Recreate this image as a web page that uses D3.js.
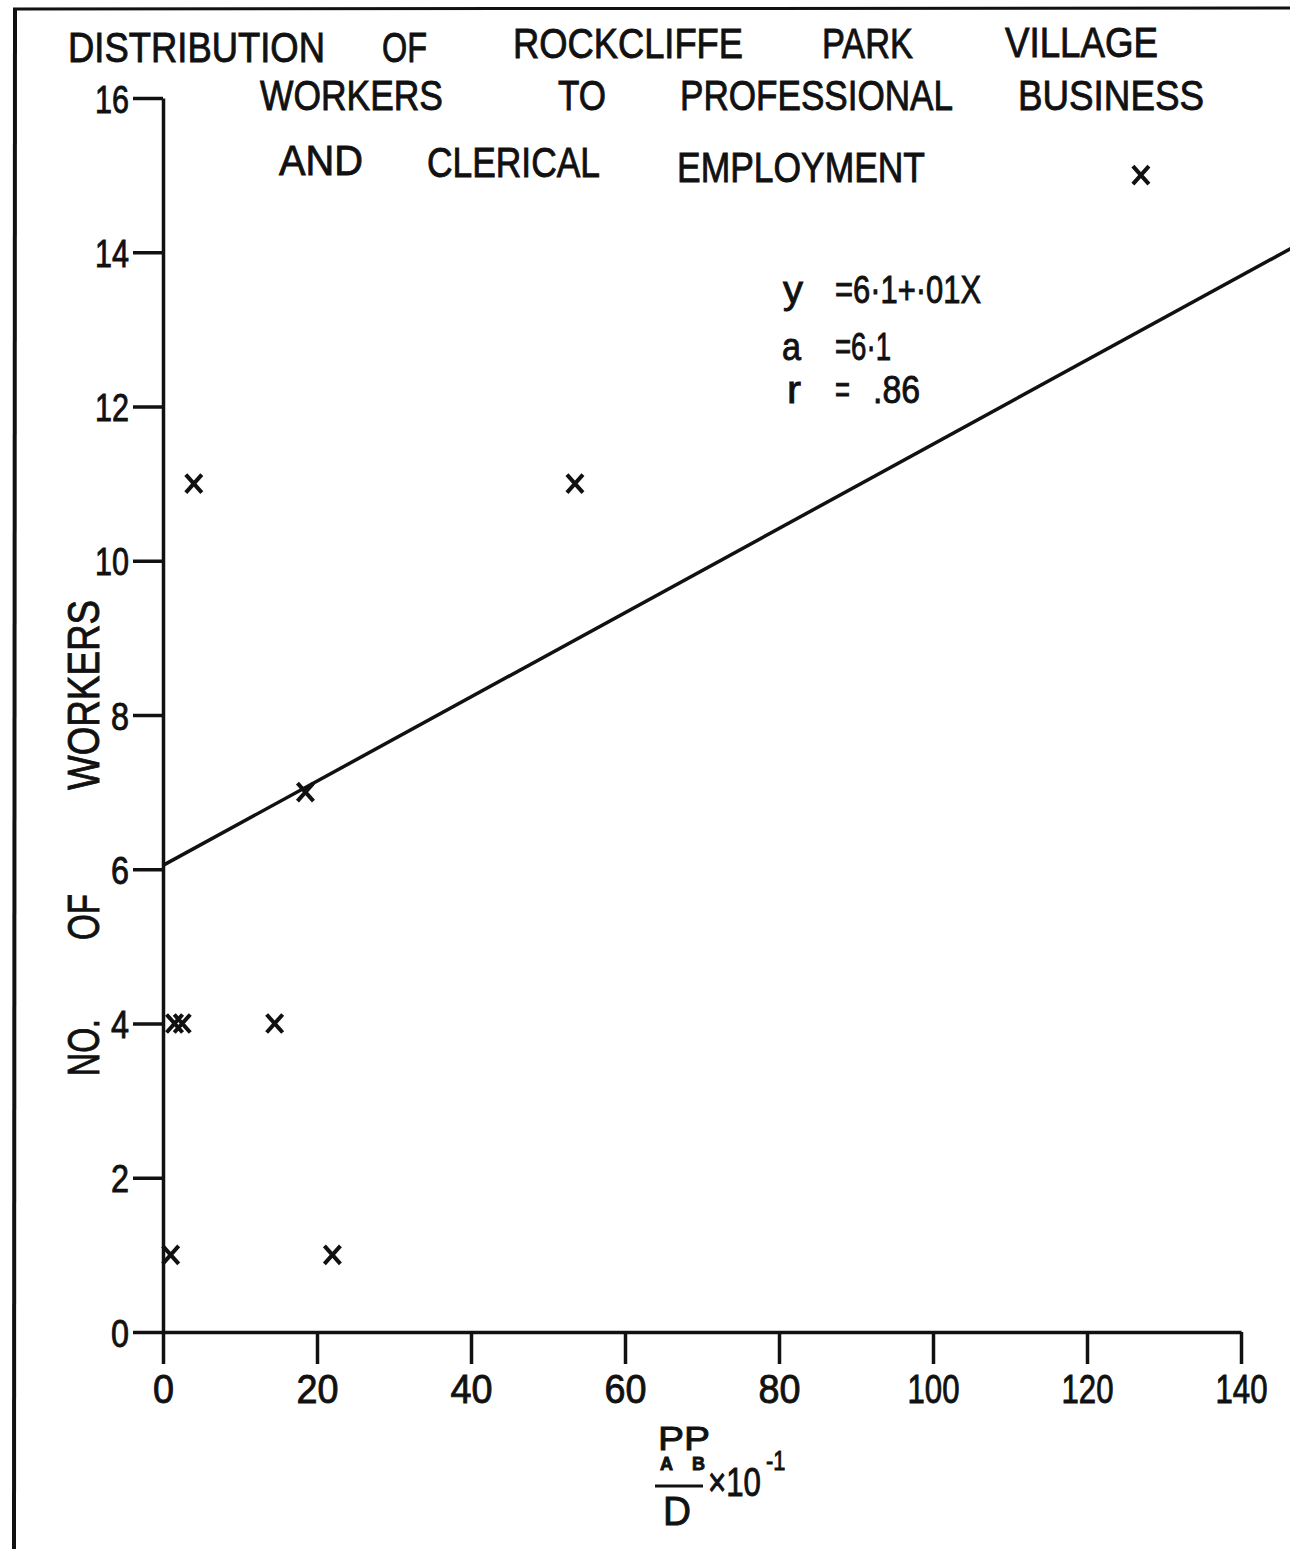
<!DOCTYPE html>
<html>
<head>
<meta charset="utf-8">
<script src="https://cdn.jsdelivr.net/npm/d3@7"></script>
<style>
  html, body { margin: 0; padding: 0; background: #fff; }
  svg { display: block; }
  text { font-family: "Liberation Sans", Arial, sans-serif; fill: #111; stroke: #111; stroke-width: 0.9px; }
</style>
</head>
<body>
<svg id="chart" width="1290" height="1549"></svg>
<script>
// Scatter of workers against the P_A P_B / D index
const pointX = [4, 53.5, 127, 18.5, 1.5, 2.5, 14.5, 1, 22];
const pointY = [11, 11, 15, 7, 4, 4, 4, 1, 1];

// Fitted line, drawn from the intercept to past the axis end
const fitX = [0, 146.5];
const fitY = [6.05, 14.05];

const xTicks = [0, 20, 40, 60, 80, 100, 120, 140];
const yTicks = [0, 2, 4, 6, 8, 10, 12, 14, 16];

const titleLines = [
  ["DISTRIBUTION", "OF", "ROCKCLIFFE", "PARK", "VILLAGE"],
  ["WORKERS", "TO", "PROFESSIONAL", "BUSINESS"],
  ["AND", "CLERICAL", "EMPLOYMENT"]
];
const yLabelWords = ["NO.", "OF", "WORKERS"];
const statLines = [
  ["y", "=6·1+·01X"],
  ["a", "=6·1"],
  ["r", "=", ".86"]
];

const svg = d3.select("#chart");
const ink = "#111";

const x = d3.scaleLinear().domain([0, 140]).range([163, 1241]);
const y = d3.scaleLinear().domain([0, 16]).range([1332, 98]);

// frame edges
svg.append("line").attr("x1", 15).attr("y1", 8).attr("x2", 14).attr("y2", 1549)
  .attr("stroke", ink).attr("stroke-width", 4);
svg.append("line").attr("x1", 13).attr("y1", 9).attr("x2", 1290).attr("y2", 8)
  .attr("stroke", ink).attr("stroke-width", 3);

// axes
const xTickWidth = { 1: 21, 2: 42, 3: 52 };
const yTickWidth = { 1: 18, 2: 34 };

const gx = svg.append("g").attr("transform", `translate(0,${y(0)})`)
  .call(d3.axisBottom(x).tickValues(xTicks).tickSize(32).tickSizeOuter(0).tickPadding(8).tickFormat(d3.format("d")));
const gy = svg.append("g").attr("transform", `translate(${x(0)},0)`)
  .call(d3.axisLeft(y).tickValues(yTicks).tickSize(30).tickSizeOuter(0).tickPadding(4).tickFormat(d3.format("d")));

[gx, gy].forEach(g => {
  g.select(".domain").attr("stroke", ink).attr("stroke-width", 3.5);
  g.selectAll(".tick line").attr("stroke", ink).attr("stroke-width", 3.5);
});
gx.selectAll(".tick text")
  .attr("font-size", 41).attr("fill", ink)
  .attr("dy", "0.76em")
  .attr("textLength", d => xTickWidth[String(d).length])
  .attr("lengthAdjust", "spacingAndGlyphs");
gy.selectAll(".tick text")
  .attr("font-size", 39).attr("fill", ink)
  .attr("dy", "0.36em")
  .attr("textLength", d => yTickWidth[String(d).length])
  .attr("lengthAdjust", "spacingAndGlyphs");

// regression line
const fit = fitX.map((v, i) => [v, fitY[i]]);
svg.append("path")
  .attr("d", d3.line().x(d => x(d[0])).y(d => y(d[1]))(fit))
  .attr("fill", "none").attr("stroke", ink).attr("stroke-width", 3.5);

// cross markers
const pts = pointX.map((v, i) => [v, pointY[i]]);
const hw = 8, hh = 9;
svg.append("g").selectAll("path").data(pts).join("path")
  .attr("d", d => {
    const cx = x(d[0]), cy = y(d[1]);
    return `M${cx - hw},${cy - hh}L${cx + hw},${cy + hh}M${cx + hw},${cy - hh}L${cx - hw},${cy + hh}`;
  })
  .attr("fill", "none").attr("stroke", ink).attr("stroke-width", 4);

// title, word by word
const titleLayout = [
  [[68, 62, 257], [382, 62, 45], [513, 58, 230], [822, 58, 91], [1005, 57, 153]],
  [[260, 110, 183], [558, 110, 48], [680, 110, 273], [1018, 110, 186]],
  [[279, 175, 84], [427, 177, 173], [677, 182, 248]]
];
titleLines.forEach((words, li) => {
  words.forEach((w, wi) => {
    const [tx, ty, tw] = titleLayout[li][wi];
    svg.append("text").attr("x", tx).attr("y", ty)
      .attr("font-size", 43).attr("textLength", tw).attr("lengthAdjust", "spacingAndGlyphs")
      .text(w);
  });
});

// rotated y-axis label
const yLabelLayout = [[1076, 57], [940, 46], [790, 190]];
yLabelWords.forEach((w, i) => {
  const [ty, tw] = yLabelLayout[i];
  svg.append("text")
    .attr("transform", `translate(99,${ty}) rotate(-90)`)
    .attr("font-size", 44).attr("textLength", tw).attr("lengthAdjust", "spacingAndGlyphs")
    .text(w);
});

// fit statistics
const statLayout = [
  [[783, 303, 20], [835, 303, 146]],
  [[782, 360, 19], [835, 360, 56]],
  [[787, 403, 14], [835, 403, 15], [873, 403, 47]]
];
statLines.forEach((parts, li) => {
  parts.forEach((p, pi) => {
    const [tx, ty, tw] = statLayout[li][pi];
    svg.append("text").attr("x", tx).attr("y", ty)
      .attr("font-size", 38).attr("textLength", tw).attr("lengthAdjust", "spacingAndGlyphs")
      .text(p);
  });
});

// x-axis label: P_A P_B over D, times 10^-1 (narrowed with a horizontal scale)
const xl = svg.append("g");
xl.append("text").attr("x", 658).attr("y", 1450).attr("font-size", 34)
  .attr("textLength", 52).attr("lengthAdjust", "spacingAndGlyphs").text("PP");
xl.append("text").attr("x", 660).attr("y", 1470).attr("font-size", 18).attr("font-weight", "bold").text("A");
xl.append("text").attr("x", 692).attr("y", 1470).attr("font-size", 18).attr("font-weight", "bold").text("B");
xl.append("line").attr("x1", 655).attr("x2", 703).attr("y1", 1486).attr("y2", 1486)
  .attr("stroke", ink).attr("stroke-width", 3);
xl.append("text").attr("x", 663).attr("y", 1525).attr("font-size", 40)
  .attr("textLength", 28).attr("lengthAdjust", "spacingAndGlyphs").text("D");
xl.append("text").attr("transform", "translate(708,1496) scale(0.78,1)")
  .attr("font-size", 40).text("×10");
xl.append("text").attr("transform", "translate(766,1470) scale(0.78,1)")
  .attr("font-size", 28).text("-1");
</script>
</body>
</html>
